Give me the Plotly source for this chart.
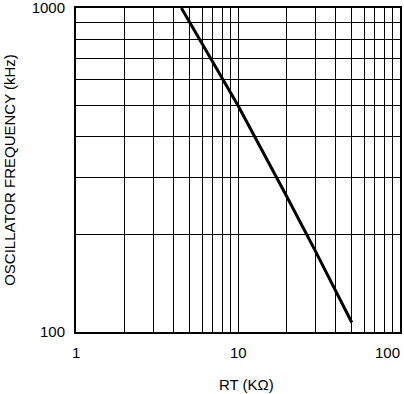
import math
import plotly.graph_objects as go

rt_kohm = [4.47, 5, 7, 10, 15, 20, 30, 40, 50.4]
freq_khz = [1000, 910, 680, 500, 343, 262, 178, 135, 107]

x_ticks = [1, 10, 100]
x_tick_labels = ["1", "10", "100"]
x_minor = [2, 3, 4, 5, 6, 7, 8, 9, 20, 30, 40, 50, 60, 70, 80, 90]
y_ticks = [100, 1000]
y_tick_labels = ["100", "1000"]
y_minor = [200, 300, 400, 500, 600, 700, 800, 900]

font = dict(family="Liberation Sans, Arial, sans-serif", size=15, color="black")

fig = go.Figure()
fig.add_trace(go.Scatter(x=rt_kohm, y=freq_khz, mode="lines",
                         line=dict(color="black", width=3), showlegend=False,
                         cliponaxis=True))

# x tick labels as annotations so the last one can stay inside the page
for i, (v, t) in enumerate(zip(x_ticks, x_tick_labels)):
    last = i == len(x_ticks) - 1
    fig.add_annotation(x=math.log10(v), xref="x", y=0, yref="paper",
                       text=t, showarrow=False, font=font,
                       xanchor="right" if last else "center",
                       xshift=2 if last else 0,
                       yanchor="top", yshift=-10)

fig.add_annotation(x=0.525, xref="paper", y=0, yref="paper", text="RT (KΩ)",
                   showarrow=False, font=font, xanchor="center", yanchor="top",
                   yshift=-42)

fig.update_layout(
    width=404, height=394,
    margin=dict(l=76, r=4, t=8, b=62, autoexpand=False),
    paper_bgcolor="white", plot_bgcolor="white",
    font=font,
    xaxis=dict(type="log", range=[0, 2], tickvals=x_ticks, showticklabels=False,
               showgrid=True, gridcolor="black", gridwidth=1,
               minor=dict(tickvals=x_minor, showgrid=True, gridcolor="black", gridwidth=1, ticks=""),
               showline=True, linecolor="black", linewidth=2, mirror=True,
               ticks="", automargin=False, zeroline=False),
    yaxis=dict(type="log", range=[2, 3], tickvals=y_ticks, ticktext=y_tick_labels,
               showgrid=True, gridcolor="black", gridwidth=1,
               minor=dict(tickvals=y_minor, showgrid=True, gridcolor="black", gridwidth=1, ticks=""),
               showline=True, linecolor="black", linewidth=2, mirror=True,
               ticks="", ticklabelstandoff=6, ticklabeloverflow="allow",
               automargin=False,
               title=dict(text="OSCILLATOR FREQUENCY (kHz)", standoff=12, font=font),
               zeroline=False),
)

fig.write_html("out.html")
